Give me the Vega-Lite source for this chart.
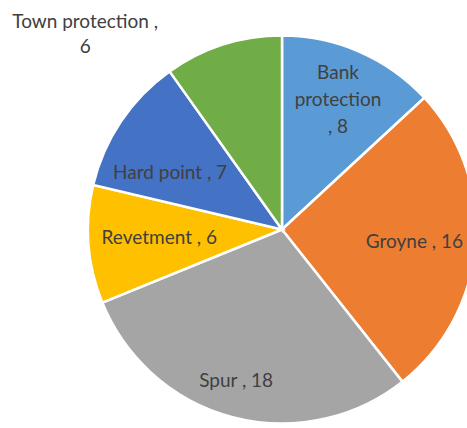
{
  "$schema": "https://vega.github.io/schema/vega-lite/v6.json",
  "width": 388,
  "height": 388,
  "autosize": "none",
  "padding": {"left": 88, "top": 35.5, "right": 0, "bottom": 0},
  "background": "white",
  "view": {"stroke": null},
  "data": {
    "values": [
      {"rank": 1, "category": "Bank protection", "value": 8, "label": "Bank\nprotection\n, 8"},
      {"rank": 2, "category": "Groyne", "value": 16, "label": "Groyne , 16"},
      {"rank": 3, "category": "Spur", "value": 18, "label": "Spur , 18"},
      {"rank": 4, "category": "Revetment", "value": 6, "label": "Revetment , 6"},
      {"rank": 5, "category": "Hard point", "value": 7, "label": "Hard point , 7"},
      {"rank": 6, "category": "Town protection", "value": 6, "label": "Town protection ,\n6"}
    ]
  },
  "encoding": {
    "theta": {"field": "value", "type": "quantitative", "stack": true},
    "order": {"field": "rank", "type": "quantitative"}
  },
  "layer": [
    {
      "mark": {"type": "arc", "outerRadius": 194, "stroke": "white", "strokeWidth": 2.5},
      "encoding": {
        "color": {
          "field": "category",
          "type": "nominal",
          "scale": {
            "domain": ["Bank protection", "Groyne", "Spur", "Revetment", "Hard point", "Town protection"],
            "range": ["#5B9BD5", "#ED7D31", "#A5A5A5", "#FFC000", "#4472C4", "#70AD47"]
          },
          "legend": null
        }
      }
    },
    {
      "mark": {"type": "text", "radius": 166, "thetaOffset": -0.068, "font": "Lato", "fontSize": 19, "fill": "#404040", "lineBreak": "\n", "lineHeight": 27, "align": "center", "baseline": "middle"},
      "encoding": {"text": {"condition": {"test": "datum.category == 'Bank protection'", "field": "label"}, "value": ""}}
    },
    {
      "mark": {"type": "text", "radius": 133, "thetaOffset": 0.016, "font": "Lato", "fontSize": 19, "fill": "#404040", "align": "center", "baseline": "middle"},
      "encoding": {"text": {"condition": {"test": "datum.category == 'Groyne'", "field": "label"}, "value": ""}}
    },
    {
      "mark": {"type": "text", "radius": 158, "thetaOffset": 0.037, "font": "Lato", "fontSize": 19, "fill": "#404040", "align": "center", "baseline": "middle"},
      "encoding": {"text": {"condition": {"test": "datum.category == 'Spur'", "field": "label"}, "value": ""}}
    },
    {
      "mark": {"type": "text", "radius": 123, "thetaOffset": 0.007, "font": "Lato", "fontSize": 19, "fill": "#404040", "align": "center", "baseline": "middle"},
      "encoding": {"text": {"condition": {"test": "datum.category == 'Revetment'", "field": "label"}, "value": ""}}
    },
    {
      "mark": {"type": "text", "radius": 125.4, "thetaOffset": -0.124, "font": "Lato", "fontSize": 19, "fill": "#404040", "align": "center", "baseline": "middle"},
      "encoding": {"text": {"condition": {"test": "datum.category == 'Hard point'", "field": "label"}, "value": ""}}
    },
    {
      "mark": {"type": "text", "radius": 286, "thetaOffset": -0.45, "font": "Lato", "fontSize": 19, "fill": "#404040", "lineBreak": "\n", "lineHeight": 25, "align": "center", "baseline": "middle"},
      "encoding": {"text": {"condition": {"test": "datum.category == 'Town protection'", "field": "label"}, "value": ""}}
    }
  ]
}
